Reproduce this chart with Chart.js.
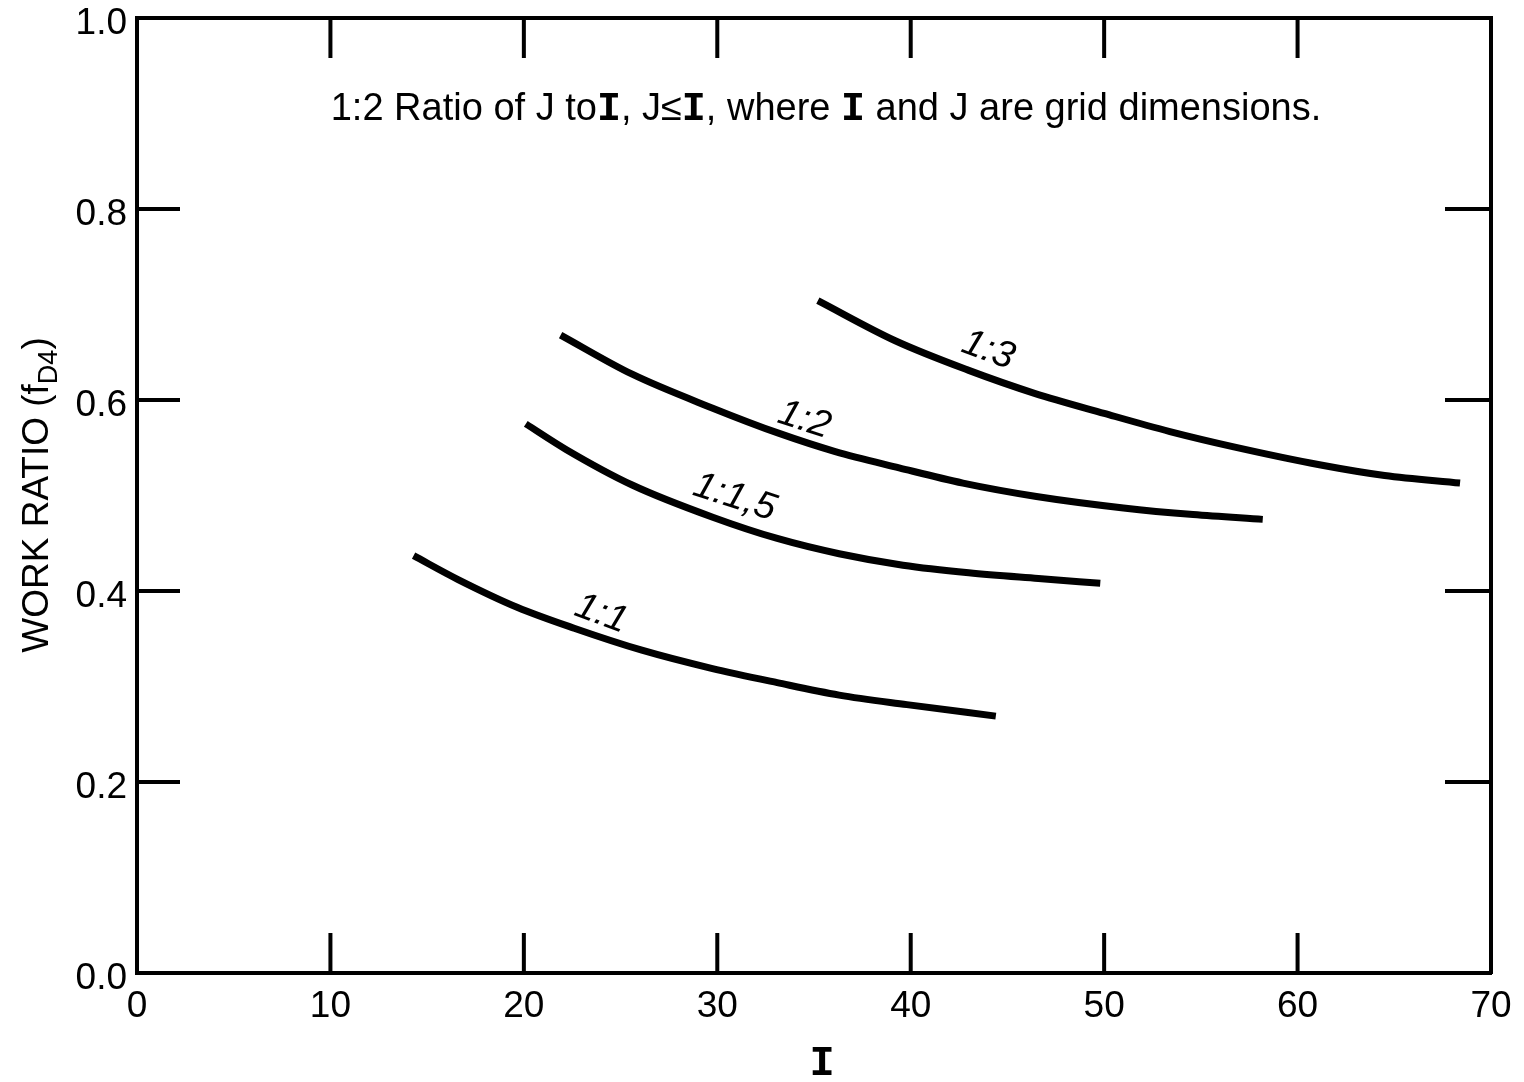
<!DOCTYPE html>
<html>
<head>
<meta charset="utf-8">
<script src="https://cdn.jsdelivr.net/npm/chart.js@4.4.0/dist/chart.umd.min.js"></script>
<style>
  html, body { margin: 0; padding: 0; background: #fff; }
  #wrap { width: 1524px; height: 1082px; }
</style>
</head>
<body>
<div id="wrap"><canvas id="chart" width="1524" height="1082"></canvas></div>
<script>
// curve data (I, work ratio)
var ratio11_x = [14.3, 16.6, 19.65, 22.6, 26.1, 29.7, 33.1, 36.3, 39.8, 44.4];
var ratio11_y = [0.437, 0.412, 0.383, 0.361, 0.338, 0.319, 0.304, 0.291, 0.281, 0.269];

var ratio115_x = [20.1, 22.2, 25.6, 29.8, 33.1, 36.3, 39.6, 43.0, 46.6, 49.8];
var ratio115_y = [0.575, 0.548, 0.511, 0.477, 0.455, 0.439, 0.427, 0.419, 0.413, 0.408];

var ratio12_x = [21.9, 25.6, 29.7, 33.2, 36.1, 39.4, 42.7, 46.5, 51.0, 54.6, 58.2];
var ratio12_y = [0.668, 0.627, 0.592, 0.565, 0.546, 0.529, 0.513, 0.499, 0.487, 0.480, 0.475];

var ratio13_x = [35.2, 39.2, 43.0, 46.4, 50.0, 53.4, 56.7, 61.2, 64.5, 68.4];
var ratio13_y = [0.704, 0.662, 0.631, 0.607, 0.586, 0.567, 0.551, 0.532, 0.521, 0.513];

// curve labels: text, position in data units, rotation in degrees
var curveLabels = ["1:1", "1:1,5", "1:2", "1:3"];
var labelX = [24.0, 30.9, 34.5, 44.0];
var labelY = [0.376, 0.498, 0.579, 0.652];
var labelRot = [20, 18, 18, 20];

var xTicks = [0, 10, 20, 30, 40, 50, 60, 70];
var yTicks = [0.0, 0.2, 0.4, 0.6, 0.8, 1.0];

var SANS = "'Liberation Sans', Arial, sans-serif";
var MONO = "'Liberation Mono', 'Courier New', monospace";

function toPoints(xs, ys) {
	var pts = [];
	for (var i = 0; i < xs.length; i++) {
		pts.push({ x: xs[i], y: ys[i] });
	}
	return pts;
}

function curve(xs, ys) {
	return {
		data: toPoints(xs, ys),
		showLine: true,
		borderColor: "#000",
		borderWidth: 7,
		pointRadius: 0,
		cubicInterpolationMode: "monotone",
		fill: false,
		borderCapStyle: "butt"
	};
}

function noPad(scale) {
	scale.paddingTop = 0;
	scale.paddingBottom = 0;
}

// draws inward tick marks, the title, curve labels and axis titles
var decorPlugin = {
	id: "decor",
	afterDraw: function(chart) {
		var ctx = chart.ctx;
		var area = chart.chartArea;
		var xs = chart.scales.x;
		var ys = chart.scales.y;

		ctx.save();
		ctx.strokeStyle = "#000";
		ctx.lineWidth = 4;
		ctx.beginPath();
		for (var i = 1; i < xTicks.length - 1; i++) {
			var px = xs.getPixelForValue(xTicks[i]);
			ctx.moveTo(px, area.bottom);
			ctx.lineTo(px, area.bottom - 40);
			ctx.moveTo(px, area.top);
			ctx.lineTo(px, area.top + 40);
		}
		for (var j = 1; j < yTicks.length - 1; j++) {
			var py = ys.getPixelForValue(yTicks[j]);
			ctx.moveTo(area.left, py);
			ctx.lineTo(area.left + 43, py);
			ctx.moveTo(area.right, py);
			ctx.lineTo(area.right - 46, py);
		}
		ctx.stroke();

		// curve labels
		ctx.fillStyle = "#000";
		ctx.font = "italic 38px " + SANS;
		ctx.textAlign = "center";
		ctx.textBaseline = "middle";
		for (var k = 0; k < curveLabels.length; k++) {
			ctx.save();
			ctx.translate(xs.getPixelForValue(labelX[k]), ys.getPixelForValue(labelY[k]));
			ctx.rotate(labelRot[k] * Math.PI / 180);
			ctx.fillText(curveLabels[k], 0, 0);
			ctx.restore();
		}

		// title line with serif I glyphs
		var parts = [
			["1:2 Ratio of J to", SANS],
			["I", MONO],
			[", J\u2264", SANS],
			["I", MONO],
			[", where ", SANS],
			["I", MONO],
			[" and J are grid dimensions.", SANS]
		];
		var widths = [];
		var total = 0;
		for (var p = 0; p < parts.length; p++) {
			ctx.font = (parts[p][1] == MONO ? "bold 40px " : "38px ") + parts[p][1];
			var w = ctx.measureText(parts[p][0]).width;
			widths.push(w);
			total += w;
		}
		var tx = 826 - total / 2;
		ctx.textAlign = "left";
		ctx.textBaseline = "alphabetic";
		for (var q = 0; q < parts.length; q++) {
			ctx.font = (parts[q][1] == MONO ? "bold 40px " : "38px ") + parts[q][1];
			ctx.fillText(parts[q][0], tx, 120);
			tx += widths[q];
		}

		// x axis title
		ctx.font = "bold 42px " + MONO;
		ctx.textAlign = "center";
		ctx.fillText("I", (area.left + area.right) / 2 + 8, 1075);

		// y axis title with subscript
		ctx.save();
		ctx.translate(48, 495);
		ctx.rotate(-Math.PI / 2);
		var t1 = "WORK RATIO (f";
		var t2 = "D4";
		var t3 = ")";
		ctx.font = "37px " + SANS;
		var w1 = ctx.measureText(t1).width;
		var w3 = ctx.measureText(t3).width;
		ctx.font = "27px " + SANS;
		var w2 = ctx.measureText(t2).width;
		var sx = -(w1 + w2 + w3) / 2;
		ctx.textAlign = "left";
		ctx.font = "37px " + SANS;
		ctx.fillText(t1, sx, 0);
		ctx.fillText(t3, sx + w1 + w2, 0);
		ctx.font = "27px " + SANS;
		ctx.fillText(t2, sx + w1, 9);
		ctx.restore();

		ctx.restore();
	}
};

var myChart = new Chart(document.getElementById("chart"), {
	type: "scatter",
	data: {
		datasets: [
			curve(ratio11_x, ratio11_y),
			curve(ratio115_x, ratio115_y),
			curve(ratio12_x, ratio12_y),
			curve(ratio13_x, ratio13_y)
		]
	},
	options: {
		responsive: false,
		animation: false,
		layout: { padding: 0 },
		plugins: {
			legend: { display: false },
			tooltip: { enabled: false },
			title: { display: false }
		},
		scales: {
			x: {
				type: "linear",
				position: "bottom",
				min: 0,
				max: 70,
				afterFit: function(scale) { scale.height = 109; },
				afterBuildTicks: function(scale) {
					scale.ticks = xTicks.map(function(v) { return { value: v }; });
				},
				ticks: {
					color: "#000",
					font: { family: SANS, size: 37 },
					padding: 12,
					maxRotation: 0,
					callback: function(v) { return String(v); }
				},
				grid: { display: false, drawTicks: false },
				border: { display: true, color: "#000", width: 4 }
			},
			x2: {
				type: "linear",
				position: "top",
				min: 0,
				max: 70,
				afterFit: function(scale) { scale.height = 18; },
				ticks: { display: false },
				grid: { display: false, drawTicks: false },
				border: { display: true, color: "#000", width: 4 }
			},
			y: {
				type: "linear",
				position: "left",
				min: 0,
				max: 1,
				afterFit: function(scale) { scale.width = 137; noPad(scale); },
				afterBuildTicks: function(scale) {
					scale.ticks = yTicks.map(function(v) { return { value: v }; });
				},
				ticks: {
					color: "#000",
					font: { family: SANS, size: 37 },
					padding: 10,
					labelOffset: 6,
					callback: function(v) { return v.toFixed(1); }
				},
				grid: { display: false, drawTicks: false },
				border: { display: true, color: "#000", width: 4 }
			},
			y2: {
				type: "linear",
				position: "right",
				min: 0,
				max: 1,
				afterFit: function(scale) { scale.width = 33; noPad(scale); },
				ticks: { display: false },
				grid: { display: false, drawTicks: false },
				border: { display: true, color: "#000", width: 4 }
			}
		}
	},
	plugins: [decorPlugin]
});
</script>
</body>
</html>
